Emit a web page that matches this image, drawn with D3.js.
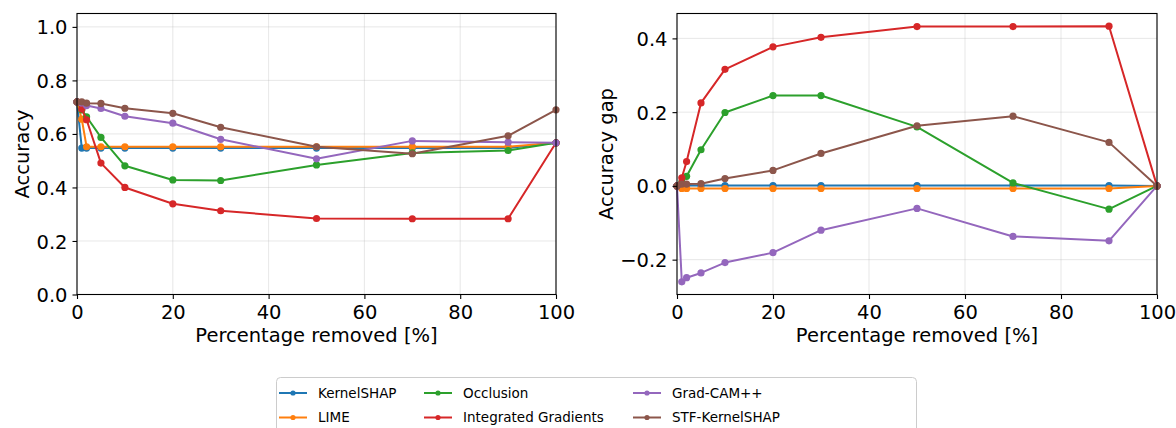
<!DOCTYPE html>
<html>
<head>
<meta charset="utf-8">
<script src="https://cdn.jsdelivr.net/npm/d3@7"></script>
<style>
  body { margin: 0; background: #fff; }
  svg { display: block; font-family: "DejaVu Sans", sans-serif; }
</style>
</head>
<body>
<svg id="chart" width="1176" height="428"></svg>
<script>
// ---- data ----
const xValues = [0, 1, 2, 5, 10, 20, 30, 50, 70, 90, 100];
const seriesNames = ["KernelSHAP", "LIME", "Occlusion", "Integrated Gradients", "Grad-CAM++", "STF-KernelSHAP"];
const seriesColors = ["#1f77b4", "#ff7f0e", "#2ca02c", "#d62728", "#9467bd", "#8c564b"];

// Accuracy (left panel)
const accKernelSHAP = [0.720, 0.547, 0.547, 0.547, 0.547, 0.547, 0.547, 0.547, 0.547, 0.547, 0.567];
const accLIME       = [0.720, 0.655, 0.552, 0.552, 0.552, 0.552, 0.552, 0.552, 0.552, 0.552, 0.567];
const accOcclusion  = [0.720, 0.690, 0.664, 0.587, 0.481, 0.428, 0.426, 0.484, 0.529, 0.538, 0.567];
const accIG         = [0.720, 0.693, 0.653, 0.491, 0.400, 0.339, 0.313, 0.284, 0.283, 0.283, 0.567];
const accGradCAM    = [0.720, 0.716, 0.706, 0.695, 0.666, 0.640, 0.580, 0.507, 0.574, 0.569, 0.567];
const accSTF        = [0.720, 0.720, 0.715, 0.714, 0.696, 0.677, 0.625, 0.552, 0.526, 0.593, 0.690];

// Accuracy gap (right panel)
const gapKernelSHAP = [0, 0.001, 0.001, 0.001, 0.001, 0.001, 0.001, 0.001, 0.001, 0.001, 0];
const gapLIME       = [0, -0.007, -0.007, -0.007, -0.007, -0.007, -0.007, -0.007, -0.007, -0.007, 0];
const gapOcclusion  = [0, 0.010, 0.026, 0.098, 0.199, 0.245, 0.245, 0.160, 0.008, -0.063, 0];
const gapIG         = [0, 0.022, 0.066, 0.225, 0.316, 0.377, 0.403, 0.432, 0.432, 0.433, 0];
const gapGradCAM    = [0, -0.260, -0.249, -0.236, -0.208, -0.181, -0.120, -0.061, -0.137, -0.149, 0];
const gapSTF        = [0, 0.005, 0.005, 0.006, 0.020, 0.042, 0.088, 0.163, 0.189, 0.118, 0];

const xTicks = [0, 20, 40, 60, 80, 100];
const leftYTicks = [0.0, 0.2, 0.4, 0.6, 0.8, 1.0];
const rightYTicks = [-0.2, 0.0, 0.2, 0.4];
const xLabel = "Percentage removed [%]";
const leftYLabel = "Accuracy";
const rightYLabel = "Accuracy gap";

const accSeries = [accKernelSHAP, accLIME, accOcclusion, accIG, accGradCAM, accSTF];
const gapSeries = [gapKernelSHAP, gapLIME, gapOcclusion, gapIG, gapGradCAM, gapSTF];

// ---- drawing ----
const svg = d3.select("#chart");
const tickFont = 19.5;

function panel(cfg) {
  const x = d3.scaleLinear().domain([0, 100]).range([cfg.left, cfg.right]);
  const y = d3.scaleLinear().domain(cfg.yDomain).range([cfg.bottom, cfg.top]);
  const g = svg.append("g");

  // grid
  g.append("g").selectAll("line").data(xTicks).join("line")
    .attr("x1", d => x(d)).attr("x2", d => x(d))
    .attr("y1", cfg.top).attr("y2", cfg.bottom)
    .attr("stroke", "#b0b0b0").attr("stroke-opacity", 0.3).attr("stroke-width", 1);
  g.append("g").selectAll("line").data(cfg.yTicks).join("line")
    .attr("x1", cfg.left).attr("x2", cfg.right)
    .attr("y1", d => y(d)).attr("y2", d => y(d))
    .attr("stroke", "#b0b0b0").attr("stroke-opacity", 0.3).attr("stroke-width", 1);

  // series
  const clipId = "clip" + cfg.left;
  svg.append("clipPath").attr("id", clipId).append("rect")
    .attr("x", cfg.left - 5).attr("y", cfg.top).attr("width", cfg.right - cfg.left + 10).attr("height", cfg.bottom - cfg.top);
  const sg = g.append("g").attr("clip-path", `url(#${clipId})`);
  const line = d3.line().x((d, i) => x(xValues[i])).y(d => y(d));
  cfg.series.forEach((vals, si) => {
    const s = sg.append("g");
    s.append("path").attr("d", line(vals)).attr("fill", "none")
      .attr("stroke", seriesColors[si]).attr("stroke-width", 2).attr("stroke-linejoin", "round");
    s.selectAll("circle").data(vals).join("circle")
      .attr("cx", (d, i) => x(xValues[i])).attr("cy", d => y(d)).attr("r", 3.6)
      .attr("fill", seriesColors[si]);
  });

  // axes
  const xAxis = d3.axisBottom(x).tickValues(xTicks).tickSize(4.5).tickPadding(5).tickFormat(d3.format("d"));
  const gx = g.append("g").attr("transform", `translate(0,${cfg.bottom})`).call(xAxis);
  const fmt = v => (v < 0 ? "\u2212" : "") + Math.abs(v).toFixed(1);
  const yAxis = d3.axisLeft(y).tickValues(cfg.yTicks).tickSize(4.5).tickPadding(5).tickFormat(fmt);
  const gy = g.append("g").attr("transform", `translate(${cfg.left},0)`).call(yAxis);
  [gx, gy].forEach(a => {
    a.select(".domain").remove();
    a.selectAll(".tick line").attr("stroke", "#000").attr("stroke-width", 1.1);
    a.selectAll(".tick text").attr("font-size", tickFont).attr("fill", "#000")
      .attr("font-family", "DejaVu Sans");
  });
  gy.selectAll(".tick text").attr("dy", "0.36em");
  gx.selectAll(".tick text").attr("dy", "0.78em");

  // frame
  g.append("rect").attr("x", cfg.left).attr("y", cfg.top)
    .attr("width", cfg.right - cfg.left).attr("height", cfg.bottom - cfg.top)
    .attr("fill", "none").attr("stroke", "#000").attr("stroke-width", 1.1);

  // labels
  g.append("text").attr("x", (cfg.left + cfg.right) / 2).attr("y", 342)
    .attr("text-anchor", "middle").attr("font-size", tickFont).text(xLabel);
  g.append("text").attr("transform", `translate(${cfg.ylabelX},${(cfg.top + cfg.bottom) / 2}) rotate(-90)`)
    .attr("text-anchor", "middle").attr("font-size", tickFont).text(cfg.ylabel);
}

panel({ left: 77, right: 556, top: 13.5, bottom: 294.5, yDomain: [0, 1.05], yTicks: leftYTicks,
        series: accSeries, ylabel: leftYLabel, ylabelX: 29 });
panel({ left: 677, right: 1157, top: 13.5, bottom: 294.5, yDomain: [-0.2945, 0.4675], yTicks: rightYTicks,
        series: gapSeries, ylabel: rightYLabel, ylabelX: 613 });

// legend
const lg = svg.append("g");
lg.append("rect").attr("x", 276.5).attr("y", 377.5).attr("width", 640).attr("height", 60)
  .attr("rx", 4).attr("fill", "#fff").attr("fill-opacity", 0.8).attr("stroke", "#cccccc");
const colX = [279, 424, 633];
const rowY = [393, 417.5];
seriesNames.forEach((name, i) => {
  const cx = colX[Math.floor(i / 2)], cy = rowY[i % 2];
  const e = lg.append("g");
  e.append("line").attr("x1", cx).attr("x2", cx + 28).attr("y1", cy).attr("y2", cy)
    .attr("stroke", seriesColors[i]).attr("stroke-width", 2);
  e.append("circle").attr("cx", cx + 14).attr("cy", cy).attr("r", 2.6).attr("fill", seriesColors[i]);
  e.append("text").attr("x", cx + 39).attr("y", cy).attr("dy", "0.36em")
    .attr("font-size", 13.5).attr("fill", "#000").text(name);
});
</script>
</body>
</html>
